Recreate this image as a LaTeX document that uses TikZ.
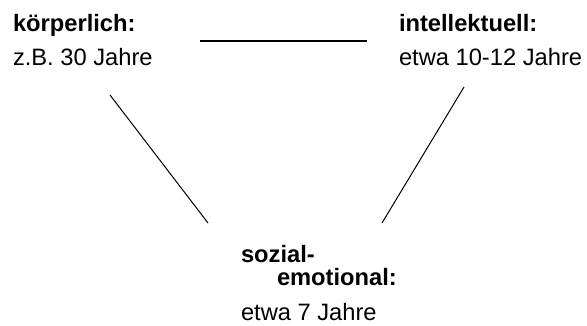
\documentclass[tikz,border=0pt]{standalone}
\usepackage{fontspec}
\setmainfont{Liberation Sans}
\begin{document}
\begin{tikzpicture}[x=1pt,y=-1pt,
  lbl/.style={anchor=base west,inner sep=0pt,outer sep=0pt,font=\fontsize{23.7}{28}\selectfont},
  hd/.style={lbl,font=\fontsize{23.7}{28}\selectfont\bfseries},
  thick line/.style={line width=2pt},
  thin line/.style={line width=1pt}]
\useasboundingbox (0,0) rectangle (587,325);
\node[hd] (k1) at (13,31) {körperlich:};
\node[lbl] (k2) at (13,65) {z.B. 30 Jahre};
\node[hd] (i1) at (399,31) {intellektuell:};
\node[lbl] (i2) at (399,65) {etwa 10-12 Jahre};
\node[hd] (s1) at (241,262) {sozial-};
\node[hd] (s2) at (277,285) {emotional:};
\node[lbl] (s3) at (241,320) {etwa 7 Jahre};
\coordinate (ta) at (200,41);
\coordinate (tb) at (367,41);
\coordinate (la) at (110,95);
\coordinate (lb) at (208,223);
\coordinate (ra) at (464,87);
\coordinate (rb) at (382,223);
\draw[thick line] (ta) -- (tb);
\draw[thin line] (la) -- (lb);
\draw[thin line] (ra) -- (rb);
\end{tikzpicture}
\end{document}
